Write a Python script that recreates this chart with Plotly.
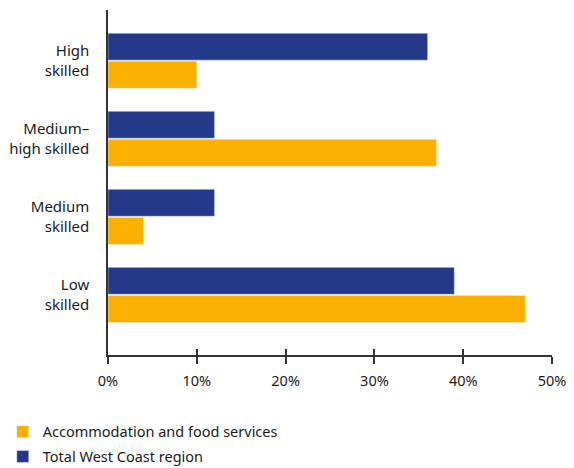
import plotly.graph_objects as go

categories = ["Low<br>skilled", "Medium<br>skilled", "Medium–<br>high skilled", "High<br>skilled"]
accommodation = [47, 4, 37, 10]
total_west_coast = [39, 12, 12, 36]
tick_vals = [0, 10, 20, 30, 40, 50]
tick_text = ["0%", "10%", "20%", "30%", "40%", "50%"]

ORANGE = "#f9b000"
BLUE = "#233889"
FONT = "Noto Sans"

fig = go.Figure()
fig.add_trace(go.Bar(y=categories, x=accommodation, orientation="h",
                     name="Accommodation and food services", marker_color=ORANGE,
                     legendgroup="a"))
fig.add_trace(go.Bar(y=categories, x=total_west_coast, orientation="h",
                     name="Total West Coast region", marker_color=BLUE,
                     legendgroup="b"))
# invisible trace to host inner ticks on overlay axis
fig.add_trace(go.Scatter(x=[0], y=[0], xaxis="x2", mode="markers",
                         marker=dict(opacity=0), showlegend=False, hoverinfo="skip"))

fig.update_layout(
    width=574, height=468,
    margin=dict(l=108, r=22, t=10, b=113, autoexpand=False),
    plot_bgcolor="white", paper_bgcolor="white",
    barmode="group", bargap=0.28, bargroupgap=0.04,
    font=dict(family=FONT, size=14.5, color="#1a1a1a"),
    xaxis=dict(range=[0, 50], tickvals=tick_vals, ticktext=tick_text,
               showgrid=False, zeroline=False, showline=True, linecolor="#333",
               linewidth=1.5, ticks="outside", ticklen=7, tickwidth=1.5, tickcolor="#333",
               tickfont=dict(size=14.5), automargin=False, ticklabelstandoff=5),
    xaxis2=dict(range=[0, 50], overlaying="x", side="bottom", tickvals=tick_vals,
                showticklabels=False, showgrid=False, zeroline=False, showline=False,
                ticks="inside", ticklen=6, tickwidth=1.5, tickcolor="#333"),
    yaxis=dict(range=[-0.77, 3.65], showgrid=False, zeroline=False, showline=True,
               linecolor="#333", linewidth=1.5, ticks="", ticklabelstandoff=14,
               tickfont=dict(size=15), automargin=False),
    legend=dict(x=-0.237, y=-0.176, xanchor="left", yanchor="top", orientation="v",
                font=dict(size=14.5), traceorder="grouped", tracegroupgap=3,
                itemwidth=30),
    showlegend=True,
)

fig.write_html("out.html")
